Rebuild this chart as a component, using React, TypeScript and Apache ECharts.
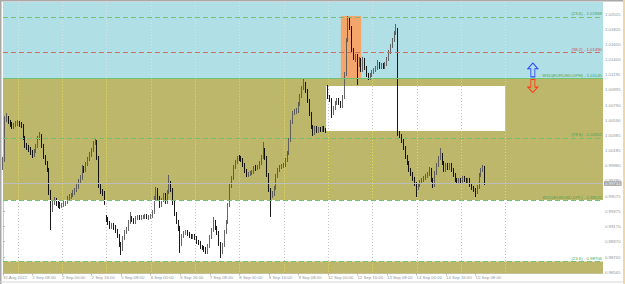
import React, { useEffect, useRef } from "react";
import * as echarts from "echarts";

// ---- data (EURUSD H1, 31 Aug 2022 16:00 .. 15 Sep 2022 13:00), bar index = position on the time axis
const closes = [
  1.00059, 1.00592, 1.00619, 1.00565, 1.00539, 1.00499, 1.00525, 1.00539, 1.00552, 1.00539,
  1.00512, 1.00352, 1.00245, 1.00232, 1.00205, 1.00165, 1.00125, 1.00179, 1.00245, 1.00352,
  1.00379, 1.00245, 1.00099, 1.00019, 0.99925, 0.99632, 0.99419, 0.99485, 0.99525, 0.99485,
  0.99459, 0.99445, 0.99459, 0.99472, 0.99499, 0.99552, 0.99565, 0.99592, 0.99619, 0.99659,
  0.99699, 0.99779, 0.99819, 0.99952, 0.99925, 1.00005, 1.00072, 1.00125, 1.00192, 1.00285,
  1.00299, 1.00085, 0.99712, 0.99645, 0.99619, 0.99565, 0.99272, 0.99219, 0.99165, 0.99192,
  0.99165, 0.99112, 0.99045, 0.98939, 0.98872, 0.99019, 0.99099, 0.99139, 0.99232, 0.99285,
  0.99259, 0.99232, 0.99285, 0.99299, 0.99285, 0.99299, 0.99302, 0.99312, 0.99299, 0.99305,
  0.99312, 0.99365, 0.99552, 0.99659, 0.99552, 0.99459, 0.99525, 0.99592, 0.99499, 0.99632,
  0.99752, 0.99659, 0.99485, 0.99339, 0.99232, 0.99152, 0.98939, 0.99045, 0.99085, 0.99099,
  0.99072, 0.99045, 0.99032, 0.99045, 0.99019, 0.98965, 0.98952, 0.98899, 0.98885, 0.98872,
  0.98832, 0.98912, 0.99032, 0.99125, 0.99232, 0.99152, 0.99085, 0.98939, 0.98832, 0.98925,
  0.99099, 0.99232, 0.99459, 0.99712, 0.99819, 0.99965, 1.00032, 1.00085, 1.00082, 1.00059,
  0.99992, 0.99912, 0.99859, 0.99872, 0.99885, 0.99899, 0.99952, 0.99948, 0.99965, 1.00019,
  1.00099, 1.00192, 1.00085, 0.99859, 0.99659, 0.99579, 0.99605, 0.99685, 0.99845, 0.99925,
  0.99965, 0.99979, 0.99992, 1.00059, 1.00152, 1.00325, 1.00565, 1.00685, 1.00699, 1.00712,
  1.00805, 1.00912, 1.01019, 1.01072, 1.00979, 1.00845, 1.00672, 1.00499, 1.00419, 1.00485,
  1.00445, 1.00472, 1.00459, 1.00485, 1.00459, 1.00445, 1.00899, 1.00859, 1.00685, 1.00752,
  1.00819, 1.00859, 1.00819, 1.00779, 1.00899, 1.01205, 1.01659, 1.01925, 1.01819, 1.01525,
  1.01419, 1.01445, 1.01325, 1.01392, 1.01259, 1.01392, 1.01285, 1.01192, 1.01152, 1.01192,
  1.01232, 1.01259, 1.01285, 1.01339, 1.01299, 1.01325, 1.01299, 1.01339, 1.01405, 1.01499,
  1.01579, 1.01659, 1.01752, 1.01792, 1.00405, 1.00379, 1.00312, 1.00219, 1.00099, 1.00019,
  0.99925, 0.99872, 0.99805, 0.99739, 0.99685, 0.99725, 0.99765, 0.99792, 0.99819, 0.99845,
  0.99872, 0.99925, 0.99792, 0.99725, 0.99885, 0.99992, 1.00085, 1.00125, 1.00019, 0.99925,
  0.99992, 0.99952, 0.99992, 0.99925, 0.99859, 0.99792, 0.99765, 0.99792, 0.99765, 0.99819,
  0.99792, 0.99765, 0.99792, 0.99725, 0.99685, 0.99659, 0.99632, 0.99699, 0.99859, 0.99925,
  0.99952, 0.99744,
];

const highs = [
  1.00099, 1.00645, 1.00685, 1.00645, 1.00592, 1.00565, 1.00552, 1.00579, 1.00592, 1.00579,
  1.00565, 1.00539, 1.00379, 1.00285, 1.00259, 1.00232, 1.00192, 1.00205, 1.00272, 1.00379,
  1.00432, 1.00405, 1.00272, 1.00125, 1.00045, 0.99952, 0.99659, 0.99525, 0.99565, 0.99552,
  0.99512, 0.99499, 0.99485, 0.99512, 0.99525, 0.99579, 0.99605, 0.99619, 0.99659, 0.99685,
  0.99739, 0.99805, 0.99859, 0.99992, 0.99979, 1.00032, 1.00099, 1.00165, 1.00219, 1.00312,
  1.00352, 1.00325, 1.00112, 0.99739, 0.99672, 0.99645, 0.99325, 0.99299, 0.99245, 0.99219,
  0.99219, 0.99192, 0.99139, 0.99072, 0.98965, 0.99045, 0.99125, 0.99165, 0.99259, 0.99365,
  0.99312, 0.99285, 0.99312, 0.99325, 0.99325, 0.99325, 0.99325, 0.99339, 0.99339, 0.99325,
  0.99339, 0.99392, 0.99579, 0.99699, 0.99685, 0.99579, 0.99552, 0.99619, 0.99619, 0.99659,
  0.99859, 0.99779, 0.99685, 0.99512, 0.99365, 0.99259, 0.99179, 0.99072, 0.99112, 0.99125,
  0.99125, 0.99099, 0.99072, 0.99072, 0.99072, 0.99045, 0.98992, 0.98979, 0.98925, 0.98912,
  0.98899, 0.98939, 0.99059, 0.99152, 0.99299, 0.99259, 0.99179, 0.99112, 0.98965, 0.98952,
  0.99125, 0.99259, 0.99485, 0.99739, 0.99845, 0.99992, 1.00059, 1.00112, 1.00125, 1.00112,
  1.00085, 1.00019, 0.99939, 0.99899, 0.99912, 0.99925, 0.99979, 0.99992, 0.99992, 1.00045,
  1.00125, 1.00299, 1.00219, 1.00112, 0.99885, 0.99685, 0.99645, 0.99712, 0.99872, 0.99952,
  0.99992, 1.00005, 1.00019, 1.00085, 1.00179, 1.00352, 1.00592, 1.00712, 1.00739, 1.00752,
  1.00832, 1.00939, 1.01045, 1.01139, 1.01099, 1.01005, 1.00872, 1.00699, 1.00525, 1.00512,
  1.00512, 1.00499, 1.00499, 1.00512, 1.00512, 1.00485, 1.01059, 1.00925, 1.00885, 1.00779,
  1.00845, 1.00885, 1.00885, 1.00845, 1.00925, 1.01232, 1.01685, 1.01979, 1.01965, 1.01845,
  1.01552, 1.01472, 1.01472, 1.01432, 1.01419, 1.01432, 1.01419, 1.01312, 1.01219, 1.01219,
  1.01259, 1.01285, 1.01312, 1.01392, 1.01365, 1.01352, 1.01352, 1.01365, 1.01432, 1.01525,
  1.01605, 1.01685, 1.01779, 1.01872, 1.01819, 1.00445, 1.00405, 1.00339, 1.00245, 1.00125,
  1.00045, 0.99952, 0.99899, 0.99832, 0.99765, 0.99752, 0.99792, 0.99819, 0.99845, 0.99872,
  0.99899, 0.99965, 0.99952, 0.99819, 0.99912, 1.00019, 1.00112, 1.00219, 1.00152, 1.00045,
  1.00019, 1.00019, 1.00019, 1.00019, 0.99952, 0.99885, 0.99819, 0.99819, 0.99819, 0.99845,
  0.99845, 0.99819, 0.99819, 0.99819, 0.99752, 0.99712, 0.99685, 0.99725, 0.99885, 0.99952,
  0.99992, 0.99979,
];

const lows = [
  0.99925, 1.00032, 1.00565, 1.00539, 1.00499, 1.00472, 1.00472, 1.00499, 1.00512, 1.00499,
  1.00485, 1.00325, 1.00219, 1.00192, 1.00165, 1.00125, 1.00085, 1.00099, 1.00152, 1.00219,
  1.00325, 1.00219, 1.00072, 0.99992, 0.99899, 0.99592, 0.99125, 0.99365, 0.99459, 0.99445,
  0.99419, 0.99405, 0.99419, 0.99432, 0.99445, 0.99472, 0.99525, 0.99539, 0.99565, 0.99592,
  0.99632, 0.99672, 0.99752, 0.99792, 0.99885, 0.99899, 0.99979, 1.00045, 1.00099, 1.00165,
  1.00259, 1.00059, 0.99685, 0.99605, 0.99579, 0.99459, 0.99232, 0.99192, 0.99139, 0.99139,
  0.99125, 0.99085, 0.99019, 0.98899, 0.98792, 0.98845, 0.98992, 0.99072, 0.99112, 0.99205,
  0.99232, 0.99205, 0.99205, 0.99259, 0.99259, 0.99259, 0.99272, 0.99272, 0.99272, 0.99259,
  0.99272, 0.99285, 0.99339, 0.99525, 0.99525, 0.99419, 0.99432, 0.99499, 0.99472, 0.99472,
  0.99605, 0.99632, 0.99459, 0.99312, 0.99205, 0.99112, 0.98819, 0.98912, 0.99019, 0.99059,
  0.99045, 0.99019, 0.99005, 0.99005, 0.98992, 0.98939, 0.98925, 0.98872, 0.98859, 0.98832,
  0.98805, 0.98805, 0.98885, 0.99005, 0.99099, 0.99125, 0.99059, 0.98912, 0.98752, 0.98805,
  0.98899, 0.99072, 0.99205, 0.99432, 0.99685, 0.99792, 0.99939, 1.00005, 1.00045, 1.00032,
  0.99965, 0.99885, 0.99832, 0.99832, 0.99845, 0.99859, 0.99872, 0.99912, 0.99925, 0.99939,
  0.99992, 1.00072, 1.00059, 0.99832, 0.99632, 0.99299, 0.99552, 0.99579, 0.99659, 0.99819,
  0.99899, 0.99939, 0.99952, 0.99965, 1.00032, 1.00125, 1.00299, 1.00539, 1.00659, 1.00672,
  1.00685, 1.00779, 1.00885, 1.00992, 1.00952, 1.00819, 1.00645, 1.00472, 1.00379, 1.00392,
  1.00419, 1.00419, 1.00432, 1.00432, 1.00432, 1.00419, 1.00872, 1.00832, 1.00619, 1.00659,
  1.00725, 1.00792, 1.00792, 1.00752, 1.00752, 1.00872, 1.01179, 1.01632, 1.01792, 1.01499,
  1.01392, 1.01365, 1.01059, 1.01299, 1.01232, 1.01232, 1.01259, 1.01165, 1.01125, 1.01125,
  1.01165, 1.01205, 1.01232, 1.01259, 1.01272, 1.01272, 1.01272, 1.01272, 1.01312, 1.01379,
  1.01472, 1.01552, 1.01632, 1.01725, 1.00379, 1.00352, 1.00285, 1.00192, 1.00072, 0.99992,
  0.99899, 0.99845, 0.99779, 0.99712, 0.99565, 0.99659, 0.99699, 0.99739, 0.99765, 0.99792,
  0.99819, 0.99845, 0.99765, 0.99685, 0.99699, 0.99859, 0.99965, 1.00059, 0.99992, 0.99899,
  0.99899, 0.99925, 0.99925, 0.99899, 0.99832, 0.99765, 0.99739, 0.99739, 0.99739, 0.99739,
  0.99765, 0.99739, 0.99739, 0.99699, 0.99659, 0.99632, 0.99565, 0.99605, 0.99672, 0.99832,
  0.99899, 0.99725,
];

// opens equal the previous close, except at session gaps
const gapOpenBars = [0, 56, 176];
const gapOpenPrices = [0.99965, 0.99299, 1.01045];

const timeLabelBars = [0, 16, 32, 48, 64, 80, 96, 112, 128, 144, 160, 176, 192, 208, 224, 240, 256];
const timeLabels = [
  "31 Aug 2022", "1 Sep 08:00", "2 Sep 00:00", "2 Sep 16:00", "5 Sep 08:00", "6 Sep 00:00",
  "6 Sep 16:00", "7 Sep 08:00", "8 Sep 00:00", "8 Sep 16:00", "9 Sep 08:00", "12 Sep 00:00",
  "12 Sep 16:00", "13 Sep 08:00", "14 Sep 00:00", "14 Sep 16:00", "15 Sep 08:00",
];
const dayStartBars = [8, 32, 56, 80, 104, 128, 152, 176, 200, 224, 248, 272];

const priceTicks = [
  0.98565, 0.98765, 0.9897, 0.9917, 0.99375, 0.99575, 0.9978, 0.9998, 1.00185,
  1.00385, 1.0059, 1.0079, 1.00995, 1.01195, 1.014, 1.016, 1.01805, 1.02005,
];

const levelValues = [1.01968, 1.0149, 1.01145, 1.00352, 0.99525, 0.98706];
const levelNames = ["(23.6)", "(38.2)", "W1D(EURUSD,DPH)", "(78.6)", "W1D(EURUSD,DPL)", "(23.6)"];
const lastPrice = 0.99744;

// zones / boxes
const upperZoneFloor = 1.01145;
const middleZoneFloor = 0.99525;
const lowerZoneTop = 0.98706;
const whiteBoxBars = [175, 272];
const whiteBoxPrices = [1.01045, 1.00445];
const orangeBoxBars = [183, 194];
const orangeBoxPrices = [1.01979, 1.01145];

const arrowBar = 287;
const arrowUpPrice = 1.01259;
const arrowDownPrice = 1.01045;

const Y_MIN = 0.98545;
const Y_MAX = 1.02165;
const X_MAX = 325;
const FONT = "'Liberation Sans', Arial, sans-serif";

export default function App() {
  const ref = useRef<HTMLDivElement>(null);

  useEffect(() => {
    if (!ref.current) return;
    document.body.style.margin = "0";
    const chart = echarts.init(ref.current, null, { renderer: "svg" });

    const candles = closes.map((c, i) => {
      const g = gapOpenBars.indexOf(i);
      const open = g >= 0 ? gapOpenPrices[g] : closes[i - 1];
      return [i, open, c, lows[i], highs[i]];
    });

    const GREEN = "#74c074";
    const GREEN_TXT = "#4f9f4f";
    const RED = "#d26e64";
    const labelBase = {
      fontSize: 4.3,
      fontFamily: FONT,
      position: "insideEndTop",
      distance: 1,
    };

    const levelLines: any[] = [];
    levelValues.forEach((v, i) => {
      const isRed = i === 1;
      const solid = i === 2;
      if (i === 4) {
        levelLines.push({
          yAxis: v,
          lineStyle: { color: "#ffffff", type: "solid", width: 1 },
          label: { show: false },
        });
      }
      levelLines.push({
        yAxis: v,
        lineStyle: {
          color: isRed ? RED : GREEN,
          type: solid ? "solid" : [5, 3],
          width: 1,
        },
        label: {
          ...labelBase,
          color: isRed ? "#c0503f" : GREEN_TXT,
          formatter: `${levelNames[i]} - ${v.toFixed(5)}`,
        },
      });
    });
    levelLines.push({
      yAxis: lastPrice,
      lineStyle: { color: "#bdbdbd", type: "solid", width: 1 },
      label: {
        position: "end",
        distance: 1,
        formatter: lastPrice.toFixed(5),
        backgroundColor: "#9e9e9e",
        color: "#ffffff",
        padding: [0.5, 1, 0, 1],
        fontSize: 4.3,
        fontFamily: FONT,
      },
    });

    const GRID_LIGHT = "#d6e2e4";
    const GRID_GRAY = "#c4c4c4";
    const GRID_YELLOW = "#e6dc52";

    const option: any = {
      animation: false,
      backgroundColor: "#ffffff",
      tooltip: { show: false },
      grid: { left: 2, right: 22, top: 2, bottom: 10.5 },
      xAxis: {
        type: "value",
        min: 0,
        max: X_MAX,
        interval: 16,
        axisLine: { show: true, lineStyle: { color: "#c8c8c8", width: 1 } },
        axisTick: {
          show: true,
          length: 2,
          customValues: timeLabelBars,
          lineStyle: { color: "#b8b8b8" },
        },
        axisLabel: {
          customValues: timeLabelBars,
          formatter: (v: number) => {
            const k = timeLabelBars.indexOf(Math.round(v));
            return k >= 0 ? timeLabels[k] : "";
          },
          align: "left",
          margin: 2,
          fontSize: 4.3,
          fontFamily: FONT,
          color: "#8c979b",
        },
        splitLine: { show: false },
      },
      yAxis: {
        type: "value",
        position: "right",
        min: Y_MIN,
        max: Y_MAX,
        axisLine: { show: true, lineStyle: { color: "#c8c8c8", width: 1 } },
        axisTick: {
          show: true,
          length: 2,
          customValues: priceTicks,
          lineStyle: { color: "#b8b8b8" },
        },
        axisLabel: {
          customValues: priceTicks,
          formatter: (v: number) => v.toFixed(5),
          margin: 2,
          fontSize: 4.3,
          fontFamily: FONT,
          color: "#8c979b",
        },
        splitLine: { show: false },
      },
      graphic: [
        { type: "rect", shape: { x: 0, y: 0, width: 1.5, height: 284 }, style: { fill: "#a8a8a8" }, silent: true },
        { type: "rect", shape: { x: 0, y: 0, width: 625, height: 1.5 }, style: { fill: "#a8a8a8" }, silent: true },
        { type: "rect", shape: { x: 623, y: 0, width: 2, height: 284 }, style: { fill: "#efd7a6" }, silent: true },
        { type: "rect", shape: { x: 0, y: 281.5, width: 623, height: 1 }, style: { fill: "#d8d8d8" }, silent: true },
        {
          type: "text",
          x: 4,
          y: 3.5,
          style: { text: "▾ EURUSD,H1", fontSize: 4.5, fontFamily: FONT, fill: "#8fa3a8" },
          silent: true,
        },
      ],
      series: [
        {
          type: "line",
          data: [],
          z: 1,
          silent: true,
          markArea: {
            silent: true,
            z: 1,
            precision: 6,
            data: [
              [{ yAxis: upperZoneFloor, itemStyle: { color: "#b0e0e6" } }, { yAxis: Y_MAX }],
              [{ yAxis: middleZoneFloor, itemStyle: { color: "#bdb76b" } }, { yAxis: upperZoneFloor }],
              [{ yAxis: Y_MIN, itemStyle: { color: "#bdb76b" } }, { yAxis: lowerZoneTop }],
              [
                { xAxis: whiteBoxBars[0], yAxis: whiteBoxPrices[0], itemStyle: { color: "#ffffff" } },
                { xAxis: whiteBoxBars[1], yAxis: whiteBoxPrices[1] },
              ],
              [
                { xAxis: orangeBoxBars[0], yAxis: orangeBoxPrices[0], itemStyle: { color: "#f3a56c" } },
                { xAxis: orangeBoxBars[1], yAxis: orangeBoxPrices[1] },
              ],
            ],
          },
        },
        {
          type: "custom",
          z: 2,
          silent: true,
          clip: false,
          data: dayStartBars.map((d) => [d, Y_MAX]),
          encode: { x: 0, y: 1 },
          renderItem: (_params: any, api: any) => {
            const v = api.value(0) as number;
            const x = Math.round(api.coord([v, Y_MAX])[0]) + 0.5;
            const yOf = (p: number) => api.coord([v, p])[1];
            const inBox = v >= whiteBoxBars[0] && v <= whiteBoxBars[1];
            const pieces: [number, number, string][] = [[Y_MAX, upperZoneFloor, GRID_LIGHT]];
            if (inBox) {
              pieces.push(
                [upperZoneFloor, whiteBoxPrices[0], GRID_YELLOW],
                [whiteBoxPrices[0], whiteBoxPrices[1], GRID_GRAY],
                [whiteBoxPrices[1], middleZoneFloor, GRID_YELLOW]
              );
            } else {
              pieces.push([upperZoneFloor, middleZoneFloor, GRID_YELLOW]);
            }
            pieces.push([middleZoneFloor, lowerZoneTop, GRID_GRAY], [lowerZoneTop, Y_MIN, GRID_YELLOW]);
            return {
              type: "group",
              children: pieces.map(([a, b, c]) => ({
                type: "line",
                shape: { x1: x, y1: yOf(a), x2: x, y2: yOf(b) },
                style: { stroke: c, lineWidth: 1, lineDash: [1, 2] },
              })),
            };
          },
        },
        {
          type: "candlestick",
          z: 3,
          barWidth: 1.3,
          data: candles,
          itemStyle: {
            color: "#9a9a9a",
            color0: "#000000",
            borderColor: "#555555",
            borderColor0: "#000000",
            borderWidth: 0.9,
          },
          markLine: {
            silent: true,
            z: 4,
            precision: 6,
            symbol: ["none", "none"],
            animation: false,
            data: levelLines,
          },
          markPoint: {
            silent: true,
            z: 5,
            precision: 6,
            label: { show: false },
            data: [
              {
                coord: [arrowBar, arrowUpPrice],
                symbol: "path://M5,0 L10,5 L7,5 L7,12 L3,12 L3,5 L0,5 Z",
                symbolSize: [10, 14],
                itemStyle: { color: "rgba(255,255,255,0)", borderColor: "#2a48ff", borderWidth: 1 },
              },
              {
                coord: [arrowBar, arrowDownPrice],
                symbol: "path://M3,0 L7,0 L7,7 L10,7 L5,12 L0,7 L3,7 Z",
                symbolSize: [10, 13],
                itemStyle: { color: "rgba(255,255,255,0)", borderColor: "#ff3a1a", borderWidth: 1 },
              },
            ],
          },
        },
      ],
    };

    chart.setOption(option);
    return () => chart.dispose();
  }, []);

  return <div ref={ref} style={{ width: 625, height: 284, background: "#ffffff" }} />;
}
